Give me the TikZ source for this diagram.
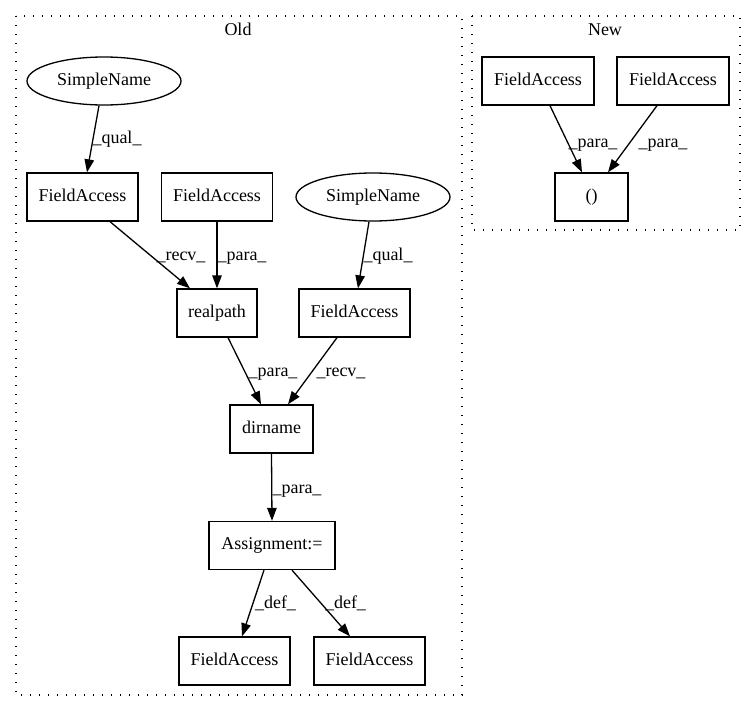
\documentclass[tikz,border=0pt]{standalone}
\usepackage{fontspec}
\setmainfont{Liberation Serif}
\usetikzlibrary{arrows.meta,shapes.geometric}
\tikzset{
  box/.style={draw, line width=1.3pt, rectangle, inner sep=0pt, minimum height=48pt, font=\fontsize{18}{20}\selectfont, text height=12pt, text depth=4pt},
  oval/.style={draw, line width=1.3pt, ellipse, inner sep=0pt, minimum width=154pt, minimum height=48pt, font=\fontsize{18}{20}\selectfont, text height=12pt, text depth=4pt},
  edge/.style={draw, line width=1.3pt, -{Triangle[length=13pt,width=9.5pt]}},
  lbl/.style={inner sep=0pt, font=\fontsize{18}{20}\selectfont, text height=12pt, text depth=4pt},
  cluster/.style={draw, line width=1.3pt, dash pattern=on 1.4pt off 7.6pt},
}
\begin{document}
\begin{tikzpicture}[x=1pt,y=-1pt]
\useasboundingbox (0,0) rectangle (756,712);
% clusters
\draw[cluster] (16,16) rectangle (462,695);
\node[lbl] (oldlbl) at (238,31) {Old};
\draw[cluster] (472,16) rectangle (740,230);
\node[lbl] (newlbl) at (605,31) {New};
% Old nodes
\node[oval] (sn1) at (104,81) {SimpleName};
\node[box, minimum width=111pt] (fa1) at (82.5,197) {FieldAccess};
\node[box, minimum width=111pt] (fa2) at (217,197) {FieldAccess};
\node[oval] (sn2) at (373,197) {SimpleName};
\node[box, minimum width=80pt] (rp) at (217,313) {realpath};
\node[box, minimum width=111pt] (fa3) at (354.5,313) {FieldAccess};
\node[box, minimum width=83pt] (dn) at (271.5,429) {dirname};
\node[box, minimum width=126pt] (as) at (272,545.5) {Assignment:=};
\node[box, minimum width=111pt] (b1) at (234.5,661) {FieldAccess};
\node[box, minimum width=111pt] (b2) at (369.5,661) {FieldAccess};
% New nodes
\node[box, minimum width=112pt] (n1) at (538,81) {FieldAccess};
\node[box, minimum width=112pt] (n2) at (673,81) {FieldAccess};
\node[box, minimum width=73pt] (np) at (591.5,197) {()};
% Old edges
\draw[edge] ([xshift=-5pt]sn1.south) -- ([xshift=4.5pt]fa1.north);
\node[lbl] (l1) at (117,139) {\_qual\_};
\draw[edge] ([xshift=27.5pt]fa1.south) -- ([xshift=-27pt]rp.north);
\node[lbl] (l2) at (181,256) {\_recv\_};
\draw[edge] (fa2.south) -- (rp.north);
\node[lbl] (l3) at (242,256) {\_para\_};
\draw[edge] ([xshift=-4pt]sn2.south) -- ([xshift=3.5pt]fa3.north);
\node[lbl] (l4) at (388,256) {\_qual\_};
\draw[edge] ([xshift=11pt]rp.south) -- ([xshift=-10.5pt]dn.north);
\node[lbl] (l5) at (273,372) {\_para\_};
\draw[edge] ([xshift=-17.5pt]fa3.south) -- ([xshift=16.5pt]dn.north);
\node[lbl] (l6) at (341,372) {\_recv\_};
\draw[edge] (dn.south) -- (as.north);
\node[lbl] (l7) at (297,489) {\_para\_};
\draw[edge] ([xshift=-8pt]as.south) -- ([xshift=7.5pt]b1.north);
\node[lbl] (l8) at (275.5,604) {\_def\_};
\draw[edge] ([xshift=20pt]as.south) -- ([xshift=-19.5pt]b2.north);
\node[lbl] (l9) at (345.5,604) {\_def\_};
% New edges
\draw[edge] ([xshift=12pt]n1.south) -- ([xshift=-9.5pt]np.north);
\node[lbl] (l10) at (593,143) {\_para\_};
\draw[edge] ([xshift=-16pt]n2.south) -- ([xshift=16.5pt]np.north);
\node[lbl] (l11) at (663,143) {\_para\_};
\end{tikzpicture}
\end{document}
